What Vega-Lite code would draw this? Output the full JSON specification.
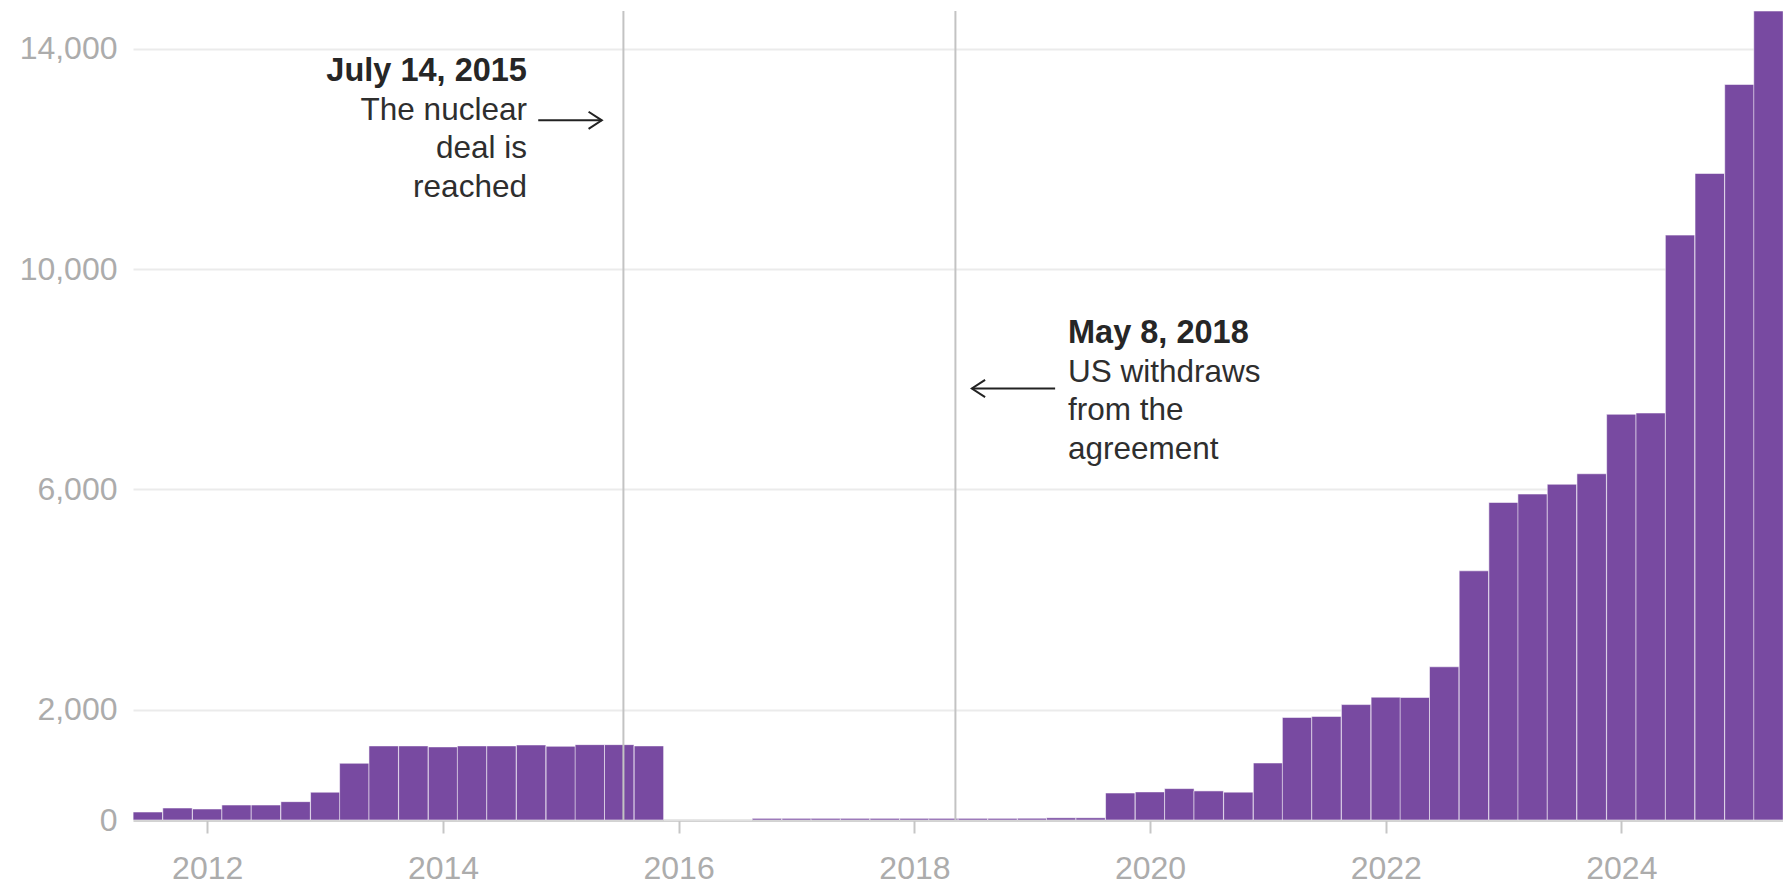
{
  "$schema": "https://vega.github.io/schema/vega-lite/v6.json",
  "width": 1650,
  "height": 809,
  "autosize": "none",
  "padding": {"left": 133, "top": 11, "right": 0, "bottom": 65},
  "background": "white",
  "config": {
    "font": "Liberation Sans",
    "view": {"stroke": null}
  },
  "datasets": {
    "quarters": [
      {"date": "2011-07-01", "value": 145},
      {"date": "2011-10-01", "value": 218},
      {"date": "2012-01-01", "value": 200},
      {"date": "2012-04-01", "value": 272},
      {"date": "2012-07-01", "value": 272},
      {"date": "2012-10-01", "value": 333},
      {"date": "2013-01-01", "value": 505},
      {"date": "2013-04-01", "value": 1030},
      {"date": "2013-07-01", "value": 1345},
      {"date": "2013-10-01", "value": 1345},
      {"date": "2014-01-01", "value": 1327},
      {"date": "2014-04-01", "value": 1345},
      {"date": "2014-07-01", "value": 1345},
      {"date": "2014-10-01", "value": 1362},
      {"date": "2015-01-01", "value": 1338},
      {"date": "2015-04-01", "value": 1368},
      {"date": "2015-07-01", "value": 1368},
      {"date": "2015-10-01", "value": 1345},
      {"date": "2016-01-01", "value": 0},
      {"date": "2016-04-01", "value": 0},
      {"date": "2016-07-01", "value": 0},
      {"date": "2016-10-01", "value": 30},
      {"date": "2017-01-01", "value": 30},
      {"date": "2017-04-01", "value": 30},
      {"date": "2017-07-01", "value": 30},
      {"date": "2017-10-01", "value": 30},
      {"date": "2018-01-01", "value": 30},
      {"date": "2018-04-01", "value": 30},
      {"date": "2018-07-01", "value": 30},
      {"date": "2018-10-01", "value": 30},
      {"date": "2019-01-01", "value": 32},
      {"date": "2019-04-01", "value": 40},
      {"date": "2019-07-01", "value": 40},
      {"date": "2019-10-01", "value": 490},
      {"date": "2020-01-01", "value": 510},
      {"date": "2020-04-01", "value": 570},
      {"date": "2020-07-01", "value": 528},
      {"date": "2020-10-01", "value": 505},
      {"date": "2021-01-01", "value": 1035},
      {"date": "2021-04-01", "value": 1862},
      {"date": "2021-07-01", "value": 1880},
      {"date": "2021-10-01", "value": 2095},
      {"date": "2022-01-01", "value": 2230},
      {"date": "2022-04-01", "value": 2225},
      {"date": "2022-07-01", "value": 2781},
      {"date": "2022-10-01", "value": 4523},
      {"date": "2023-01-01", "value": 5764},
      {"date": "2023-04-01", "value": 5917},
      {"date": "2023-07-01", "value": 6095},
      {"date": "2023-10-01", "value": 6285},
      {"date": "2024-01-01", "value": 7365},
      {"date": "2024-04-01", "value": 7388},
      {"date": "2024-07-01", "value": 10617},
      {"date": "2024-10-01", "value": 11736},
      {"date": "2025-01-01", "value": 13352},
      {"date": "2025-04-01", "value": 14685}
    ],
    "events": [
      {"date": "2015-07-14", "event": "The nuclear deal is reached"},
      {"date": "2018-05-08", "event": "US withdraws from the agreement"}
    ],
    "arrows": [
      {"from": "2014-10-23", "to": "2015-05-08", "value": 12700, "dir": "right"},
      {"from": "2019-03-13", "to": "2018-06-28", "value": 7832, "dir": "left"}
    ]
  },
  "encoding": {
    "x": {
      "field": "date",
      "type": "temporal",
      "scale": {
        "type": "utc",
        "padding": 0,
        "domain": [
          {"year": 2011, "month": 5, "date": 16, "utc": true},
          {"year": 2025, "month": 5, "date": 16, "utc": true}
        ]
      },
      "axis": {
        "title": null,
        "format": "%Y",
        "values": [
          {"year": 2012, "month": 1, "date": 1, "utc": true},
          {"year": 2014, "month": 1, "date": 1, "utc": true},
          {"year": 2016, "month": 1, "date": 1, "utc": true},
          {"year": 2018, "month": 1, "date": 1, "utc": true},
          {"year": 2020, "month": 1, "date": 1, "utc": true},
          {"year": 2022, "month": 1, "date": 1, "utc": true},
          {"year": 2024, "month": 1, "date": 1, "utc": true}
        ],
        "grid": false,
        "domainColor": "#c6c6c6",
        "domainWidth": 2.5,
        "tickColor": "#c6c6c6",
        "tickWidth": 2,
        "tickSize": 13,
        "labelFontSize": 32,
        "labelColor": "#acacac",
        "labelBaseline": "alphabetic",
        "labelPadding": 45,
        "labelFlush": false,
        "labelOverlap": false
      }
    }
  },
  "layer": [
    {
      "data": {"name": "quarters"},
      "mark": {
        "type": "bar",
        "width": 29.46,
        "color": "#784aa1",
        "stroke": "#ffffff",
        "strokeWidth": 1,
        "strokeOpacity": 0.55
      },
      "encoding": {
        "y": {
          "field": "value",
          "type": "quantitative",
          "scale": {"domain": [0, 14685], "nice": false},
          "axis": {
            "title": null,
            "values": [0, 2000, 6000, 10000, 14000],
            "format": ",d",
            "domain": false,
            "ticks": false,
            "grid": true,
            "gridColor": "#ebebeb",
            "gridWidth": 2,
            "labelFontSize": 32,
            "labelColor": "#acacac",
            "labelPadding": 16,
            "zindex": 0
          }
        }
      }
    },
    {
      "data": {"name": "events"},
      "mark": {"type": "rule", "color": "#c3c3c3", "strokeWidth": 2},
      "encoding": {}
    },
    {
      "data": {"name": "arrows"},
      "mark": {"type": "rule", "color": "#222222", "strokeWidth": 2},
      "encoding": {
        "x": {"field": "from", "type": "temporal"},
        "x2": {"field": "to"},
        "y": {"field": "value", "type": "quantitative"}
      }
    },
    {
      "data": {"name": "arrows"},
      "mark": {"type": "point", "filled": false, "stroke": "#222222", "strokeWidth": 2, "size": 700, "opacity": 1},
      "encoding": {
        "x": {"field": "to", "type": "temporal"},
        "y": {"field": "value", "type": "quantitative"},
        "shape": {
          "field": "dir",
          "type": "nominal",
          "legend": null,
          "scale": {"domain": ["right", "left"], "range": ["M-1,-0.65L0,0L-1,0.65", "M1,-0.65L0,0L1,0.65"]}
        }
      }
    },
    {
      "data": {"values": [{"date": "2014-09-18", "value": 13413, "label": "July 14, 2015"}]},
      "mark": {"type": "text", "align": "right", "baseline": "alphabetic", "fontSize": 32.5, "fontWeight": "bold", "color": "#262626"},
      "encoding": {"y": {"field": "value", "type": "quantitative"}, "text": {"field": "label"}}
    },
    {
      "data": {"values": [{"date": "2014-09-18", "value": 12712, "label": "The nuclear\ndeal is\nreached"}]},
      "mark": {"type": "text", "align": "right", "baseline": "alphabetic", "fontSize": 31.5, "lineBreak": "\n", "lineHeight": 38.5, "color": "#2e2e2e"},
      "encoding": {"y": {"field": "value", "type": "quantitative"}, "text": {"field": "label"}}
    },
    {
      "data": {"values": [{"date": "2019-04-22", "value": 8654, "label": "May 8, 2018"}]},
      "mark": {"type": "text", "align": "left", "baseline": "alphabetic", "fontSize": 32.5, "fontWeight": "bold", "color": "#262626"},
      "encoding": {"y": {"field": "value", "type": "quantitative"}, "text": {"field": "label"}}
    },
    {
      "data": {"values": [{"date": "2019-04-22", "value": 7952, "label": "US withdraws\nfrom the\nagreement"}]},
      "mark": {"type": "text", "align": "left", "baseline": "alphabetic", "fontSize": 31.5, "lineBreak": "\n", "lineHeight": 38.5, "color": "#2e2e2e"},
      "encoding": {"y": {"field": "value", "type": "quantitative"}, "text": {"field": "label"}}
    }
  ]
}
